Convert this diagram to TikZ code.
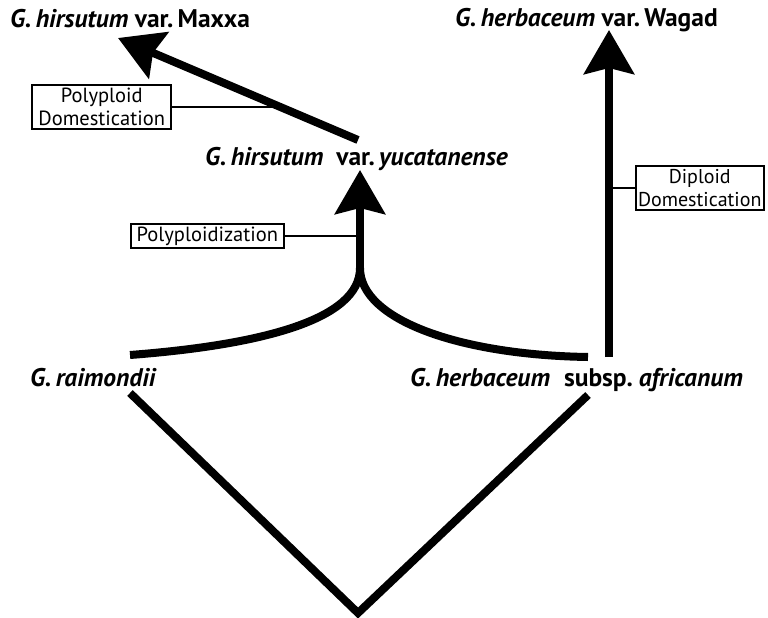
\documentclass[tikz,border=0pt]{standalone}
\usepackage{fontspec}
\setmainfont{PT Sans}
\usetikzlibrary{arrows.meta,calc}
\begin{document}
\begin{tikzpicture}[x=1pt,y=-1pt,
  taxon/.style={font=\fontsize{25.5}{28}\selectfont\bfseries, anchor=base west, inner sep=0pt},
  labelbox/.style={draw, line width=2pt, font=\fontsize{20.5}{23}\selectfont, align=center, inner xsep=6pt, inner ysep=3pt},
  branch/.style={line width=8pt},
  tickline/.style={line width=2pt},
  head/.style={-{Stealth[length=44pt,width=50pt,inset=6pt]}}
]
\useasboundingbox (0,0) rectangle (768,618);
% taxa
\node[taxon] (maxxa) at (10,28) {\itshape G.\,hirsutum\/ \upshape var.\,Maxxa};
\node[taxon] (wagad) at (455,27) {\itshape G.\,herbaceum\/ \upshape var.\,Wagad};
\node[taxon] (yuca) at (205,165) {\itshape G.\,hirsutum\/ \ \upshape var.\,\itshape yucatanense};
\node[taxon] (raim) at (30,386) {\itshape G.\,raimondii};
\node[taxon] (afri) at (410,386) {\itshape G.\,herbaceum\/\hspace{14pt}\upshape subsp.\hspace{6pt}\itshape africanum};
% coordinates
\coordinate (root) at (358,613);
\coordinate (rtop) at (130,393);
\coordinate (htop) at (588,395);
\coordinate (rend) at (130,355);
\coordinate (hend) at (588,357);
\coordinate (junc) at (360,268);
\coordinate (ptip) at (360,170);
\coordinate (ystart) at (358,140);
\coordinate (mtip) at (118,38);
\coordinate (wbase) at (609,357);
\coordinate (wtip) at (609,30);
% V
\draw[branch] (rtop) -- (root) -- (htop);
% hybridization curves
\draw[branch] (rend) .. controls (260,345) and (360,320) .. (junc);
\draw[branch] (hend) .. controls (460,355) and (360,320) .. (junc);
\draw[branch,head] (junc) -- (ptip);
% domestication arrows
\draw[branch,head] (ystart) -- (mtip);
\draw[branch,head] (wbase) -- (wtip);
% boxes
\node[labelbox, anchor=east] (pdbox) at (172,107) {Polyploid\\Domestication};
\node[labelbox, anchor=east] (pzbox) at (285,236) {Polyploidization};
\node[labelbox, anchor=west, inner xsep=2pt, font=\fontsize{20}{23}\selectfont] (ddbox) at (635,188) {Diploid\\Domestication};
\coordinate (pdj) at (281,107);
\coordinate (pzj) at (360,236);
\coordinate (ddj) at (609,188);
\draw[tickline] (pdbox.east) -- (pdj);
\draw[tickline] (pzbox.east) -- (pzj);
\draw[tickline] (ddbox.west) -- (ddj);
\end{tikzpicture}
\end{document}
